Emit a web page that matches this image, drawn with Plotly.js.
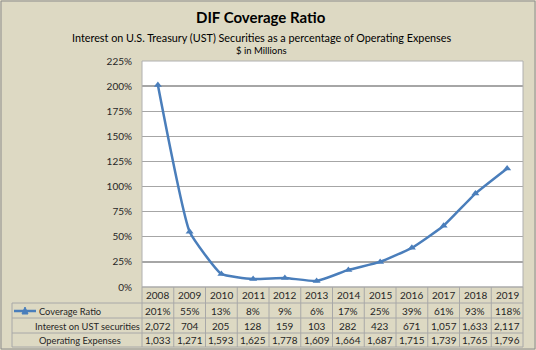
<!DOCTYPE html>
<html>
<head>
<meta charset="utf-8">
<script src="https://cdn.plot.ly/plotly-3.0.1.min.js"></script>
<style>body{margin:0;padding:0;background:#ddd9c3;}#chart{width:536px;height:350px;}</style>
</head>
<body>
<div id="chart"></div>
<script>
var years = ['2008','2009','2010','2011','2012','2013','2014','2015','2016','2017','2018','2019'];
var coverageRatio = [2.01, 0.55, 0.13, 0.08, 0.09, 0.06, 0.17, 0.25, 0.39, 0.61, 0.93, 1.18];
var interestUST = [2072, 704, 205, 128, 159, 103, 282, 423, 671, 1057, 1633, 2117];
var operatingExpenses = [1033, 1271, 1593, 1625, 1778, 1609, 1664, 1687, 1715, 1739, 1765, 1796];
var rowLabels = ['Coverage Ratio', 'Interest on UST securities', 'Operating Expenses'];

var FONT = 'Lato, "Open Sans", sans-serif';
var W = 536, H = 350, L = 142, R = 13, T = 61, B = 63;
var PW = W - L - R, PH = H - T - B;
function px(p) { return (p - L) / PW; }
function py(p) { return (H - B - p) / PH; }
function fmt(n) { return n.toLocaleString('en-US'); }

var lineColor = '#4a7ebb';
var gridColor = '#a6a6a6';
var tblColor = '#a8a8a8';
var n = years.length;
function cx(j) { return (j + 0.5) / n; }

var shapes = [];
var annotations = [];

shapes.push({type:'rect', xref:'paper', yref:'paper', x0:px(1), x1:px(535), y0:py(349), y1:py(1),
  line:{color:'#8c8c8c', width:1}, layer:'below'});
shapes.push({type:'rect', xref:'paper', yref:'paper', x0:0, x1:1, y0:0, y1:1,
  line:{color:'#b0b0b0', width:1}, layer:'above'});

var rowY = [287, 303, 318, 333, 347];
shapes.push({type:'line', xref:'paper', yref:'paper', x0:0, x1:1, y0:py(rowY[0]), y1:py(rowY[0]), line:{color:tblColor, width:1}});
for (var r = 1; r < rowY.length; r++) {
  shapes.push({type:'line', xref:'paper', yref:'paper', x0:px(12), x1:1, y0:py(rowY[r]), y1:py(rowY[r]), line:{color:tblColor, width:1}});
}
for (var i = 0; i <= n; i++) {
  shapes.push({type:'line', xref:'paper', yref:'paper', x0:i/n, x1:i/n, y0:py(rowY[0]), y1:py(rowY[4]), line:{color:tblColor, width:1}});
}
shapes.push({type:'line', xref:'paper', yref:'paper', x0:px(12), x1:px(12), y0:py(rowY[1]), y1:py(rowY[4]), line:{color:tblColor, width:1}});

var tf = {family: FONT, size: 10, color: '#262626'};
var lf = {family: FONT, size: 9.3, color: '#262626'};
var rowCenters = [295, 311, 326, 340];
for (var j = 0; j < n; j++) {
  annotations.push({xref:'paper', yref:'paper', x:cx(j), y:py(rowCenters[0]), text:years[j], showarrow:false, font:tf, xanchor:'center', yanchor:'middle'});
  annotations.push({xref:'paper', yref:'paper', x:cx(j), y:py(rowCenters[1]), text:Math.round(coverageRatio[j]*100)+'%', showarrow:false, font:tf, xanchor:'center', yanchor:'middle'});
  annotations.push({xref:'paper', yref:'paper', x:cx(j), y:py(rowCenters[2]), text:fmt(interestUST[j]), showarrow:false, font:tf, xanchor:'center', yanchor:'middle'});
  annotations.push({xref:'paper', yref:'paper', x:cx(j), y:py(rowCenters[3]), text:fmt(operatingExpenses[j]), showarrow:false, font:tf, xanchor:'center', yanchor:'middle'});
}
annotations.push({xref:'paper', yref:'paper', x:px(37), y:py(rowCenters[1]), text:rowLabels[0], showarrow:false, font:lf, xanchor:'left', yanchor:'middle'});
annotations.push({xref:'paper', yref:'paper', x:px(87), y:py(rowCenters[2]), text:rowLabels[1], showarrow:false, font:lf, xanchor:'center', yanchor:'middle'});
annotations.push({xref:'paper', yref:'paper', x:px(80), y:py(rowCenters[3]), text:rowLabels[2], showarrow:false, font:lf, xanchor:'center', yanchor:'middle'});
shapes.push({type:'line', xref:'paper', yref:'paper', x0:px(14), x1:px(36), y0:py(311), y1:py(311), line:{color:lineColor, width:2.5}});
shapes.push({type:'path', xref:'paper', yref:'paper',
  path:'M '+px(22)+' '+py(314)+' L '+px(28)+' '+py(314)+' L '+px(25)+' '+py(307)+' Z',
  fillcolor:lineColor, line:{color:lineColor, width:1}});

annotations.push({xref:'paper', yref:'paper', x:px(261), y:py(17), text:'<b>DIF Coverage Ratio</b>', showarrow:false,
  font:{family:FONT, size:15, color:'#000'}, xanchor:'center', yanchor:'middle'});
annotations.push({xref:'paper', yref:'paper', x:px(261), y:py(37), text:'Interest on U.S. Treasury (UST) Securities as a percentage of Operating Expenses', showarrow:false,
  font:{family:FONT, size:10.8, color:'#000'}, xanchor:'center', yanchor:'middle'});
annotations.push({xref:'paper', yref:'paper', x:px(261), y:py(51), text:'$ in Millions', showarrow:false,
  font:{family:FONT, size:9.5, color:'#000'}, xanchor:'center', yanchor:'middle'});

var trace = {
  x: years, y: coverageRatio, type:'scatter', mode:'lines+markers', name: rowLabels[0],
  line:{color:lineColor, width:2.5, shape:'spline', smoothing:0.4},
  marker:{symbol:'triangle-up', size:7, color:lineColor},
  cliponaxis:false
};

var layout = {
  width: W, height: H,
  margin:{l:L, r:R, t:T, b:B, pad:0},
  paper_bgcolor:'#ddd9c3', plot_bgcolor:'#ffffff',
  showlegend:false,
  xaxis:{type:'category', range:[-0.5, 11.5], showticklabels:false, showgrid:false, zeroline:false, ticks:'', fixedrange:true},
  yaxis:{range:[0, 2.25], dtick:0.25, tick0:0, tickformat:'.0%', showgrid:true, gridcolor:gridColor, gridwidth:1.3,
    zeroline:false, ticks:'', ticklabelstandoff:9,
    tickfont:{family:FONT, size:10, color:'#262626'}, fixedrange:true},
  shapes: shapes,
  annotations: annotations,
  font:{family:FONT}
};

Plotly.newPlot('chart', [trace], layout, {displayModeBar:false, staticPlot:true});
</script>
</body>
</html>
